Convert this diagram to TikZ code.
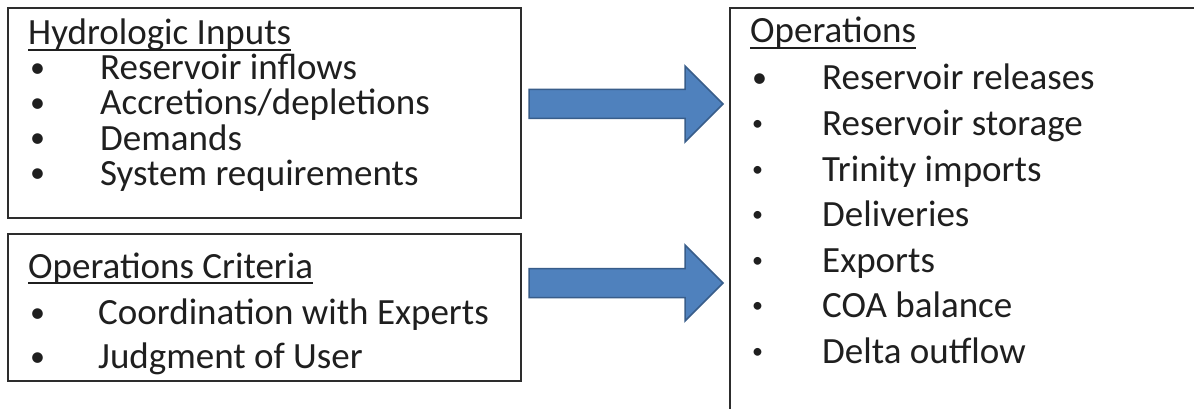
\documentclass[tikz,border=0pt]{standalone}
\usepackage{fontspec}
\setmainfont{Carlito}
\usetikzlibrary{calc}
\definecolor{arrowfill}{RGB}{79,129,189}
\definecolor{arrowline}{RGB}{56,93,138}
\definecolor{boxline}{RGB}{45,45,45}
% bullet: box width, bullet size, raise
\newcommand{\bul}[3]{\makebox[#1][l]{\hspace{2pt}\raisebox{#3}{\fontsize{#2}{#2}\selectfont\textbullet}}}
\newcommand{\blockarrow}[2]{%
  \draw[blockarrow] ($(#1)+(0,-14.5)$) -- ($(#2)+(-38,-14.5)$) -- ($(#2)+(-38,-38)$)
    -- (#2) -- ($(#2)+(-38,38)$) -- ($(#2)+(-38,14.5)$) -- ($(#1)+(0,14.5)$) -- cycle;}

\begin{document}
\begin{tikzpicture}[x=1pt,y=-1pt,line join=miter,
                    every node/.style={font=\fontsize{37}{40}\selectfont,text=black!88,inner sep=0pt}]
  \tikzstyle{box}=[draw=boxline,line width=2pt,anchor=north west]
  \tikzstyle{head}=[anchor=base west]
  \tikzstyle{item}=[anchor=base west]
  \tikzstyle{uline}=[draw=black!88,line width=1.8pt]
  \tikzstyle{blockarrow}=[fill=arrowfill,draw=arrowline,line width=1.5pt]

  \clip (0,0) rectangle (1194,409);
  \fill[white] (0,0) rectangle (1194,409);

  % boxes
  \node[box,minimum width=513pt,minimum height=210pt] (hyd)  at (7,7)   {};
  \node[box,minimum width=513pt,minimum height=147pt] (crit) at (7,233) {};
  \node[box,minimum width=520pt,minimum height=430pt] (ops)  at (729,7) {};

  % hydrologic inputs
  \node[head] (hydH) at ($(hyd.north west)+(21,38)$) {Hydrologic Inputs};
  \draw[uline] ($(hydH.base west)+(0,5)$) -- ($(hydH.base east)+(0,5)$);
  \node[item] (hyd1) at ($(hydH.base west)+(0,35)$) {\bul{72pt}{30}{2pt}Reservoir inflows};
  \node[item] (hyd2) at ($(hyd1.base west)+(0,35)$) {\bul{72pt}{30}{2pt}Accretions/depletions};
  \node[item] (hyd3) at ($(hyd2.base west)+(0,35)$) {\bul{72pt}{30}{2pt}Demands};
  \node[item] (hyd4) at ($(hyd3.base west)+(0,35)$) {\bul{72pt}{30}{2pt}System requirements};

  % operations criteria
  \node[head] (critH) at ($(crit.north west)+(21,45)$) {Operations Criteria};
  \draw[uline] ($(critH.base west)+(0,5)$) -- ($(critH.base east)+(0,5)$);
  \node[item] (crit1) at ($(critH.base west)+(0,46)$) {\bul{70pt}{30}{2pt}Coordination with Experts};
  \node[item] (crit2) at ($(crit1.base west)+(0,44)$) {\bul{70pt}{30}{2pt}Judgment of User};

  % operations
  \node[head] (opsH) at ($(ops.north west)+(21,36)$) {Operations};
  \draw[uline] ($(opsH.base west)+(0,5)$) -- ($(opsH.base east)+(0,5)$);
  \node[item] (ops1) at ($(opsH.base west)+(0,47)$) {\bul{72pt}{30}{2pt}Reservoir releases};
  \node[item] (ops2) at ($(ops1.base west)+(0,45.5)$) {\bul{72pt}{22}{5pt}Reservoir storage};
  \node[item] (ops3) at ($(ops2.base west)+(0,45.5)$) {\bul{72pt}{22}{5pt}Trinity imports};
  \node[item] (ops4) at ($(ops3.base west)+(0,45.5)$) {\bul{72pt}{22}{5pt}Deliveries};
  \node[item] (ops5) at ($(ops4.base west)+(0,45.5)$) {\bul{72pt}{22}{5pt}Exports};
  \node[item] (ops6) at ($(ops5.base west)+(0,45.5)$) {\bul{72pt}{22}{5pt}COA balance};
  \node[item] (ops7) at ($(ops6.base west)+(0,45.5)$) {\bul{72pt}{22}{5pt}Delta outflow};

  % arrows
  \coordinate (a1s) at ($(hyd.north east)+(7,97)$);
  \coordinate (a1e) at ($(ops.north west)+(-6,97)$);
  \coordinate (a2s) at ($(crit.north east)+(7,50)$);
  \coordinate (a2e) at ($(ops.north west)+(-6,276)$);
  \blockarrow{a1s}{a1e}
  \blockarrow{a2s}{a2e}
\end{tikzpicture}
\end{document}
